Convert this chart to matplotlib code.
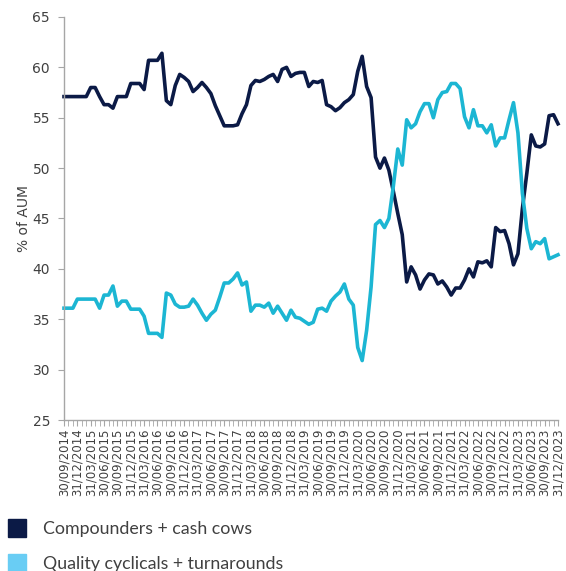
import numpy as np
import matplotlib.pyplot as plt
from matplotlib.lines import Line2D

# monthly shares (% of AUM), 30/09/2014 -> 31/12/2023
compounders = [
    57.1, 57.1, 57.1, 57.1, 57.1, 57.1, 58.0, 58.0, 57.1, 56.3,
    56.3, 55.95, 57.1, 57.1, 57.1, 58.4, 58.4, 58.4, 57.8, 60.7,
    60.7, 60.7, 61.4, 56.7, 56.3, 58.2, 59.3, 59.0, 58.6, 57.6,
    58.0, 58.5, 58.0, 57.4, 56.2, 55.2, 54.2, 54.2, 54.2, 54.3,
    55.4, 56.3, 58.2, 58.7, 58.6, 58.8, 59.1, 59.3, 58.6, 59.8,
    60.0, 59.1, 59.4, 59.5, 59.5, 58.1, 58.6, 58.5, 58.7, 56.3,
    56.1, 55.7, 56.0, 56.5, 56.8, 57.3, 59.6, 61.1, 58.1, 57.0,
    51.1, 50.0, 51.0, 49.8, 47.7, 45.5, 43.4, 38.7, 40.2, 39.4,
    38.0, 38.9, 39.5, 39.4, 38.5, 38.8, 38.2, 37.4, 38.1, 38.1,
    38.9, 40.0, 39.2, 40.7, 40.6, 40.8, 40.2, 44.1, 43.7, 43.8,
    42.5, 40.4, 41.5, 46.0, 49.5, 53.3, 52.2, 52.1, 52.4, 55.2,
    55.3, 54.4,
]
quality = [
    36.1, 36.1, 36.1, 37.0, 37.0, 37.0, 37.0, 37.0, 36.1, 37.4,
    37.4, 38.3, 36.3, 36.8, 36.8, 36.0, 36.0, 36.0, 35.3, 33.6,
    33.6, 33.6, 33.2, 37.6, 37.4, 36.5, 36.2, 36.2, 36.3, 37.0,
    36.4, 35.6, 34.9, 35.5, 35.9, 37.2, 38.6, 38.6, 39.0, 39.6,
    38.4, 38.7, 35.8, 36.4, 36.4, 36.2, 36.6, 35.6, 36.3, 35.6,
    34.9, 35.9, 35.2, 35.1, 34.8, 34.5, 34.7, 36.0, 36.1, 35.8,
    36.8, 37.3, 37.7, 38.5, 37.0, 36.4, 32.2, 30.9, 33.9, 38.2,
    44.4, 44.8, 44.1, 45.0, 48.2, 51.9, 50.3, 54.8, 54.0, 54.4,
    55.6, 56.4, 56.4, 55.0, 56.8, 57.5, 57.6, 58.4, 58.4, 57.9,
    55.1, 54.0, 55.8, 54.2, 54.2, 53.5, 54.3, 52.2, 53.0, 53.0,
    54.8, 56.5, 53.5, 47.5, 44.0, 42.0, 42.7, 42.5, 43.0, 41.0,
    41.2, 41.4,
]
quarter_labels = [
    '30/09/2014', '31/12/2014', '31/03/2015', '30/06/2015', '30/09/2015',
    '31/12/2015', '31/03/2016', '30/06/2016', '30/09/2016', '31/12/2016',
    '31/03/2017', '30/06/2017', '30/09/2017', '31/12/2017', '31/03/2018',
    '30/06/2018', '30/09/2018', '31/12/2018', '31/03/2019', '30/06/2019',
    '30/09/2019', '31/12/2019', '31/03/2020', '30/06/2020', '30/09/2020',
    '31/12/2020', '31/03/2021', '30/06/2021', '30/09/2021', '31/12/2021',
    '31/03/2022', '30/06/2022', '30/09/2022', '31/12/2022', '31/03/2023',
    '30/06/2023', '30/09/2023', '31/12/2023',
]
series_names = ['Compounders + cash cows', 'Quality cyclicals + turnarounds']

navy = '#0b1a46'
cyan_line = '#1cb6d3'
cyan_patch = '#69cdf4'
grey = '#a6a6a6'
txt = '#404040'

fig = plt.figure(figsize=(5.66, 5.71), dpi=100)
ax = fig.add_axes([64/566, 1-420/571, (558-64)/566, (420-17)/571])

x = np.arange(len(compounders))
ax.plot(x, compounders, color=navy, lw=2.6, clip_on=False, solid_joinstyle='round')
ax.plot(x, quality, color=cyan_line, lw=2.6, clip_on=False, solid_joinstyle='round')

ax.set_xlim(0, len(x) - 1)
ax.set_ylim(25, 65)
ax.set_yticks(range(25, 70, 5))
ax.set_xticks(np.arange(0, len(x), 3))
ax.set_xticklabels(quarter_labels, rotation=90)
ax.set_xticks(x, minor=True)

for s in ['top', 'right']:
    ax.spines[s].set_visible(False)
for s in ['left', 'bottom']:
    ax.spines[s].set_color(grey)
    ax.spines[s].set_linewidth(1.0)

ax.tick_params(axis='both', which='both', color=grey, labelcolor=txt, labelsize=8.5)
ax.tick_params(axis='y', length=4, pad=6, labelsize=10)
ax.tick_params(axis='x', which='major', length=4, pad=2)
ax.tick_params(axis='x', which='minor', length=4)

ax.set_ylabel('% of AUM', color=txt, fontsize=10)
ax.yaxis.set_label_coords(-0.066, 0.5)

handles = [Line2D([], [], marker='s', ls='', color=navy, markersize=12.5),
           Line2D([], [], marker='s', ls='', color=cyan_patch, markersize=12.5)]
fig.legend(handles, series_names, loc='upper left', bbox_to_anchor=(6/566, 1-521/571),
           frameon=False, borderpad=0, borderaxespad=0, handlelength=1.2,
           handletextpad=0.9, labelspacing=1.07, labelcolor=txt,
           prop={'family': 'Lato', 'size': 12.8})

fig.savefig('out.png', dpi=100)
